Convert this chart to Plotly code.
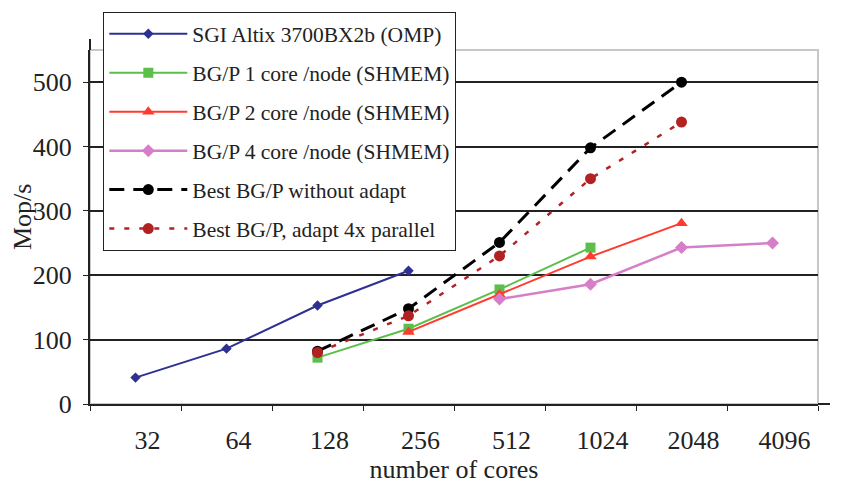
import plotly.graph_objects as go

categories = ["32", "64", "128", "256", "512", "1024", "2048", "4096"]

sgi_x = ["32", "64", "128", "256"]
sgi_y = [41, 86, 153, 207]

bg1_x = ["128", "256", "512", "1024"]
bg1_y = [72, 117, 178, 243]

bg2_x = ["256", "512", "1024", "2048"]
bg2_y = [112, 170, 229, 281]

bg4_x = ["512", "1024", "2048", "4096"]
bg4_y = [163, 186, 243, 250]

best_x = ["128", "256", "512", "1024", "2048"]
best_y = [82, 148, 251, 398, 500]

adapt_x = ["128", "256", "512", "1024", "2048"]
adapt_y = [80, 137, 230, 350, 438]

FONT = "Liberation Serif"
TXT = "#222222"

fig = go.Figure()

series = [
    ("SGI Altix 3700BX2b (OMP)", sgi_x, sgi_y, "#2e3192", "diamond", 8, 2, "solid"),
    ("BG/P 1 core /node (SHMEM)", bg1_x, bg1_y, "#5cbf4c", "square", 10, 2, "solid"),
    ("BG/P 2 core /node (SHMEM)", bg2_x, bg2_y, "#ff3b2f", "triangle-up", 11, 2, "solid"),
    ("BG/P 4 core /node (SHMEM)", bg4_x, bg4_y, "#d67fc8", "diamond", 10, 2.5, "solid"),
    ("Best BG/P without adapt", best_x, best_y, "#000000", "circle", 11, 3, "15px,9px"),
    ("Best BG/P, adapt 4x parallel", adapt_x, adapt_y, "#b22222", "circle", 11, 2.5, "5px,10px"),
]

for i, (name, xs, ys, color, sym, msize, lw, dash) in enumerate(series):
    fig.add_trace(go.Scatter(
        x=xs, y=ys, name=name, mode="lines+markers",
        line=dict(color=color, width=lw, dash=dash),
        marker=dict(color=color, symbol=sym, size=msize),
        legendgroup="g%d" % i,
    ))

# plot-area border (gray) and axis overhangs
fig.add_shape(type="rect", xref="paper", yref="paper", x0=0, x1=1, y0=0, y1=1,
              line=dict(color="#c8c8c8", width=2), layer="below")
fig.add_shape(type="line", xref="paper", yref="paper", x0=0, x1=0, y0=1, y1=1.031,
              line=dict(color=TXT, width=2))
fig.add_shape(type="line", xref="paper", yref="paper", x0=1, x1=1.0165, y0=0, y1=0,
              line=dict(color=TXT, width=2))

# y-axis title
fig.add_annotation(text="Mop/s", textangle=-90, showarrow=False,
                   xref="paper", yref="paper", x=(22 - 90) / 728, y=(404 - 217) / 354,
                   xanchor="center", yanchor="middle",
                   font=dict(family=FONT, size=26, color=TXT))

fig.update_layout(
    width=843, height=486,
    margin=dict(l=90, r=25, t=50, b=82),
    paper_bgcolor="white", plot_bgcolor="white",
    font=dict(family=FONT, size=21, color=TXT),
    showlegend=True,
    legend=dict(
        x=0.018, y=1.107, xanchor="left", yanchor="top",
        bgcolor="white", bordercolor=TXT, borderwidth=1.2,
        font=dict(family=FONT, size=21.5, color=TXT),
        traceorder="grouped", tracegroupgap=8, itemwidth=78,
        maxheight=450,
    ),
    xaxis=dict(
        type="category", categoryorder="array", categoryarray=categories,
        range=[-0.5, 7.5], tickson="boundaries", ticks="outside", ticklen=5,
        tickcolor=TXT, showline=True, linecolor=TXT, linewidth=2,
        showgrid=False, ticklabelshift=12, ticklabelstandoff=12,
        tickfont=dict(family=FONT, size=26, color=TXT),
        title=dict(text="number of cores", font=dict(family=FONT, size=26, color=TXT), standoff=0),
    ),
    yaxis=dict(
        range=[0, 550], tickvals=[0, 100, 200, 300, 400, 500],
        ticks="outside", ticklen=5, tickcolor=TXT,
        showline=True, linecolor=TXT, linewidth=2,
        showgrid=True, gridcolor=TXT, gridwidth=1.5, zeroline=False,
        ticklabelstandoff=6,
        tickfont=dict(family=FONT, size=26, color=TXT),
    ),
)

fig.write_html("out.html")
